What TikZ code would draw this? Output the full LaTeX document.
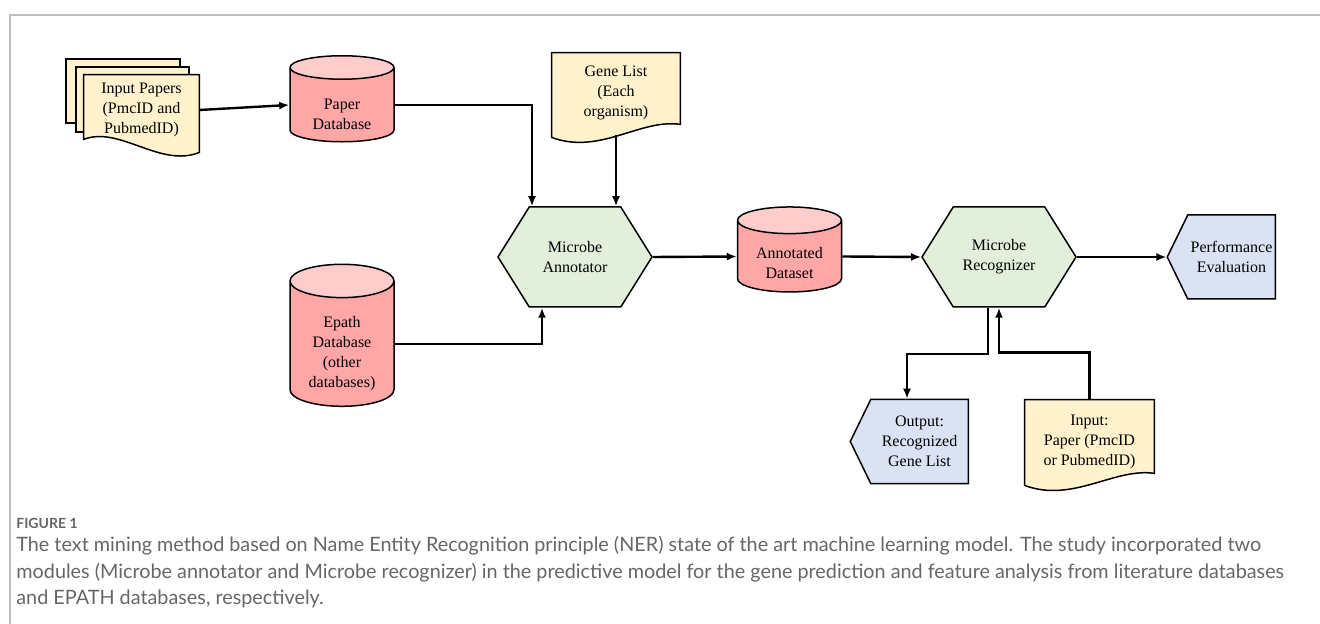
\documentclass[tikz,border=0pt]{standalone}
\usepackage{fontspec}
\setmainfont{Liberation Serif}
\newfontfamily\capfont{Lato}
\usetikzlibrary{shapes.geometric}
\usetikzlibrary{shapes.symbols}
\usetikzlibrary{arrows.meta}
\usetikzlibrary{backgrounds}
\usetikzlibrary{positioning}

\definecolor{docyellow}{HTML}{FFF2CC}
\definecolor{dbred}{HTML}{FFA6A6}
\definecolor{dbtop}{HTML}{FFCCCC}
\definecolor{hexgreen}{HTML}{E2EFDA}
\definecolor{outblue}{HTML}{DAE3F3}
\definecolor{framegray}{HTML}{BEBEBE}
\definecolor{capgray}{HTML}{666666}

% text of a database, set lower than the middle of the cylinder
\newcommand{\dbtext}[2]{\raisebox{#1}[\height][\depth]{\begin{tabular}{@{}c@{}}#2\end{tabular}}}

\begin{document}
\begin{tikzpicture}[x=0.5pt,y=-0.5pt]
			\tikzset{every node/.style = {font=\fontsize{8}{10}\selectfont, align=center}}
			\tikzset{db/.style = {cylinder, shape border rotate=90, draw, line width=0.75pt,
					cylinder uses custom fill, cylinder body fill=dbred,
					cylinder end fill=dbtop, minimum width=52pt, inner sep=0pt}}
			\tikzset{hexa/.style = {signal, signal to=west and east, signal pointer angle=116,
					draw, line width=0.75pt, fill=hexgreen, minimum width=77pt,
					minimum height=50pt, inner sep=0pt}}
			\tikzset{report/.style = {signal, signal to=west, signal pointer angle=128,
					draw, line width=0.75pt, fill=outblue, minimum height=42pt, inner sep=0pt}}
			\tikzset{doc/.style = {rectangle, inner sep=0pt}}
			\tikzset{docline/.style = {draw, fill=docyellow, line width=0.75pt}}
			\tikzset{edge/.style = {-{Latex[length=5pt,width=4pt]}, line width=1.2pt}}

			\useasboundingbox (0,0) rectangle (1320,624);

			% frame
			\draw[framegray, line width=0.75pt] (1320,15) -- (10,15) -- (10,624);

			% databases
			\node[db, minimum height=43pt, aspect=0.4] (paperdb) at (342,105) {\dbtext{-5.5pt}{Paper\\Database}};
			\node[db, minimum height=71pt, aspect=0.5] (epath) at (342,344) {\dbtext{-5pt}{Epath\\Database\\(other\\databases)}};
			\node[db, minimum height=42.5pt, aspect=0.4] (anndata) at (789.5,256.5) {\dbtext{-4pt}{Annotated\\Dataset}};

			% documents
			\node[doc, minimum width=57.5pt, minimum height=35pt] (papers) at (141.5,110) {Input Papers\\(PmcID and\\PubmedID)};
			\node[doc, minimum width=64pt, minimum height=40pt] (genes) at (616,93) {Gene List\\(Each\\organism)};
			\node[doc, minimum width=64.5pt, minimum height=42pt] (inpaper) at (1089.5,442) {Input:\\Paper (PmcID\\or PubmedID)};

			% modules and outputs
			\node[hexa] (annot) at (575,257) {Microbe\\Annotator};
			\node[hexa] (recog) at (999,257) {Microbe\\Recognizer};
			\node[report, minimum width=54pt] (perf) at (1231.5,257) {Performance\\Evaluation};
			\node[report, minimum width=59pt] (outlist) at (919.5,441.5) {Output:\\Recognized\\Gene List};

			% document outlines
			\begin{scope}[on background layer]
			\draw[docline] (66,59) rectangle (180,123);
			\draw[docline] (76,67) rectangle (189,132);
			\draw[docline] (papers.north west) -- (papers.north east) -- ([yshift=-3.5pt]papers.south east)
				.. controls +(-39,16) and +(36,-14) .. ([yshift=3pt]papers.south west) -- cycle;
			\draw[docline] (genes.north west) -- (genes.north east) -- ([yshift=4.5pt]genes.south east)
				.. controls +(-40,-6) and +(48,18) .. ([yshift=-2pt]genes.south west) -- cycle;
			\draw[docline] (inpaper.north west) -- (inpaper.north east) -- ([yshift=5.5pt]inpaper.south east)
				.. controls +(-40,-6) and +(48,18) .. ([yshift=-0.5pt]inpaper.south west) -- cycle;
			\end{scope}

			% edges
			\draw[edge] (papers.east) -- (paperdb.west);
			\draw[edge] (paperdb.east) -| ([xshift=-21.5pt]annot.north);
			\draw[edge] ([yshift=-1pt]genes.south) -- (genes.south |- annot.north);
			\draw[edge] (epath.east) -| ([xshift=-16.5pt]annot.south);
			\draw[edge] (annot.east) -- (anndata.west);
			\draw[edge] (anndata.east) -- (recog.west);
			\draw[edge] (recog.east) -- (perf.west);
			\draw[edge] ([xshift=-5.5pt]recog.south) -- ++(0,46) -| ([xshift=-6.25pt]outlist.north);
			\draw[edge] (inpaper.north) -- ++(0,-47) -| (recog.south);

			% caption
			\node[anchor=base west, inner sep=0pt, text=capgray,
				font=\capfont\bfseries\fontsize{7}{8}\selectfont] (fignum) at (16,528) {FIGURE 1};
			\node[anchor=north west, inner sep=0pt, align=left, text=capgray,
				font=\capfont\fontsize{9.9}{13.25}\selectfont] (caption) at (16,536)
				{The text mining method based on Name Entity Recognition principle (NER) state of the art machine learning model. The study incorporated two\\
				modules (Microbe annotator and Microbe recognizer) in the predictive model for the gene prediction and feature analysis from literature databases\\
				and EPATH databases, respectively.};

\end{tikzpicture}
\end{document}
